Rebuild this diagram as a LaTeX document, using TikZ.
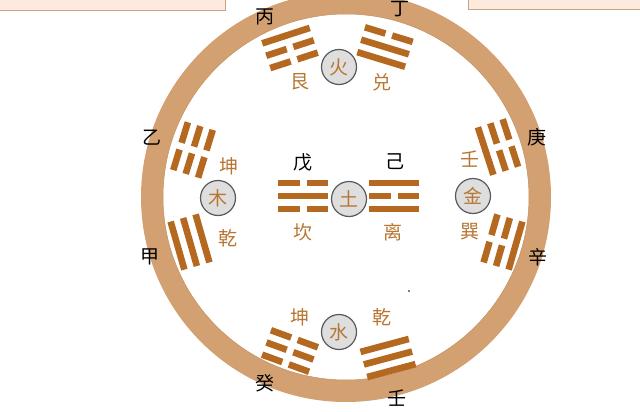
\documentclass[tikz,border=0pt]{standalone}
\usepackage{fontspec}
\newfontfamily\cjk{Noto Sans CJK SC}

\definecolor{ringtan}{HTML}{D3A072}
\definecolor{ringedge}{HTML}{C4915F}
\definecolor{barbrown}{HTML}{B5681F}
\definecolor{guaorange}{HTML}{B87633}
\definecolor{boxfill}{HTML}{FBEADD}
\definecolor{boxedge}{HTML}{C9A385}

\tikzset{
  bar/.style={fill=barbrown},
  stem/.style={font=\cjk\fontsize{19}{19}\selectfont, text=black, inner sep=0pt},
  guaname/.style={font=\cjk\fontsize{19}{19}\selectfont, text=guaorange, inner sep=0pt},
  element/.style={circle, draw=black!65, line width=1.2pt, fill=black!13, minimum size=35pt, inner sep=0pt,
                  font=\cjk\fontsize{19}{19}\selectfont, text=guaorange}
}

% one line of a trigram: #1 = offset, #2 = 1 solid / 0 broken
\newcommand{\yao}[2]{%
  \ifnum#2=1
    \fill[bar] (-25,#1-3.3) rectangle (25,#1+3.3);
  \else
    \fill[bar] (-25,#1-3.3) rectangle (-3.5,#1+3.3);
    \fill[bar] (3.5,#1-3.3) rectangle (25,#1+3.3);
  \fi}
% trigram at (#1,#2) turned by #3, lines outer/middle/inner
\newcommand{\gua}[6]{%
  \begin{scope}[shift={(#1,#2)}, rotate=#3]
    \yao{13}{#4}\yao{0}{#5}\yao{-13}{#6}
  \end{scope}}

\begin{document}
\begin{tikzpicture}[x=1pt, y=1pt]
  \useasboundingbox (0,0) rectangle (640,-412);
  \clip (0,0) rectangle (640,-412);
  \fill[white] (0,0) rectangle (640,-412);

  % boxes cut off at the top
  \draw[fill=boxfill, draw=boxedge, line width=1pt] (-5,5) rectangle (225,-11);
  \draw[fill=boxfill, draw=boxedge, line width=1pt] (468,5) rectangle (645,-10);

  % ring
  \draw[ringtan, line width=22pt] (346,-197) circle (194);
  \draw[ringedge, line width=0.5pt] (346,-197) circle (183);

  % trigrams
  \gua{290}{-48}{18}{1}{0}{0}
  \gua{385}{-47}{-17}{0}{1}{1}
  \gua{193}{-150}{73}{0}{0}{0}
  \gua{190}{-242}{106}{1}{1}{1}
  \gua{498}{-147}{-72}{0}{0}{1}
  \gua{503}{-242}{-106}{1}{0}{0}
  \gua{290}{-351}{160}{0}{0}{0}
  \gua{388}{-358}{195}{1}{1}{1}
  \gua{303}{-196}{0}{0}{1}{0}
  \gua{394}{-196}{0}{1}{0}{1}

  % the five elements
  \node[element] (huo) at (339,-67) {火};
  \node[element] (mu) at (218,-198) {木};
  \node[element] (tu) at (349,-199) {土};
  \node[element] (jin) at (473,-196) {金};
  \node[element] (shui) at (339,-332) {水};

  % names of the trigrams
  \node[guaname] (gen) at (300,-82) {艮};
  \node[guaname] (dui) at (382,-82) {兑};
  \node[guaname] (kunL) at (229,-166) {坤};
  \node[guaname] (qianL) at (228,-238) {乾};
  \node[guaname] (kan) at (303,-232) {坎};
  \node[guaname] (li) at (393,-232) {离};
  \node[guaname] (renR) at (470,-159) {壬};
  \node[guaname] (xun) at (470,-232) {巽};
  \node[guaname] (kunB) at (300,-317) {坤};
  \node[guaname] (qianB) at (382,-317) {乾};

  % stems
  \node[stem] (bing) at (265,-17) {丙};
  \node[stem] (ding) at (400,-9) {丁};
  \node[stem] (yi) at (152,-138) {乙};
  \node[stem] (jia) at (150,-257) {甲};
  \node[stem] (wu) at (303,-162) {戊};
  \node[stem] (ji) at (395,-162) {己};
  \node[stem] (geng) at (537,-137) {庚};
  \node[stem] (xin) at (538,-257) {辛};
  \node[stem] (gui) at (265,-383) {癸};
  \node[stem] (renB) at (397,-398) {壬};

  \fill (409,-291) circle (0.9);
\end{tikzpicture}
\end{document}
